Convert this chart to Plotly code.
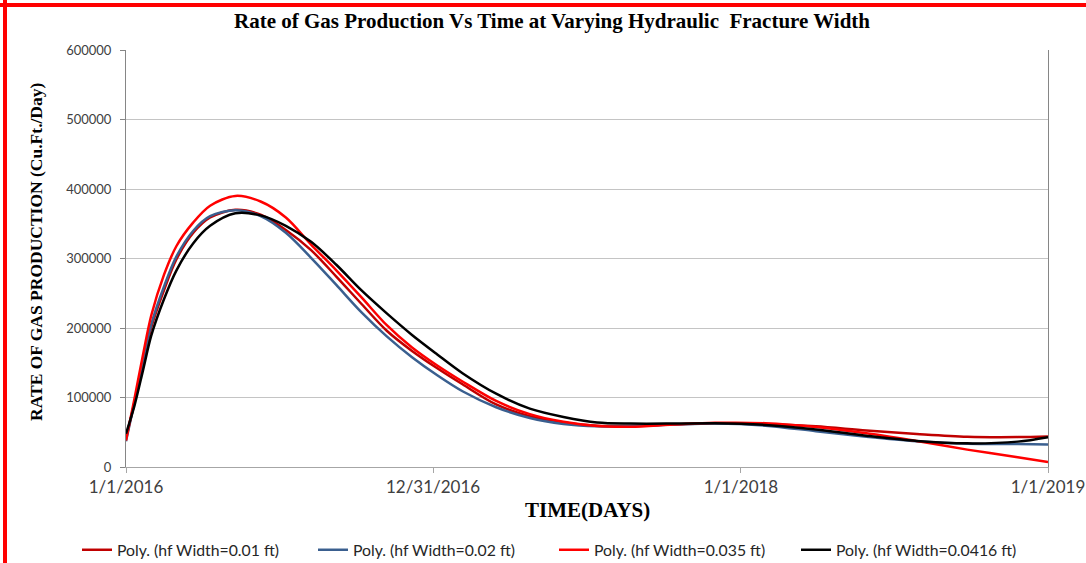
import pandas as pd
import plotly.graph_objects as go

# ---- data ----
days = [0, 10, 20, 30, 45, 60, 80, 100, 130, 160, 190, 220, 250, 280, 310, 340, 370, 400,
        440, 480, 520, 560, 600, 650, 700, 760, 820, 880, 940, 1000, 1060, 1096]

w_001 = [42000, 92000, 147000, 201000, 254000, 299000, 337000, 359000, 370000, 363000, 341000,
         312000, 274000, 234500, 196000, 167000, 142000, 119000, 90000, 73000, 64000, 59500,
         59000, 61000, 63000, 62000, 58500, 52500, 47500, 43500, 43000, 44000]
w_002 = [37000, 93000, 152000, 205000, 259000, 303000, 340000, 361000, 369500, 361000, 337000,
         301000, 262000, 222500, 188000, 158000, 132000, 109000, 86000, 70500, 62000, 58500,
         59000, 61000, 62500, 59500, 51500, 43500, 37000, 33500, 33000, 32500]
w_0035 = [38000, 98000, 160000, 218000, 276000, 318000, 352000, 376000, 390000, 382000, 359000,
          320000, 283000, 244000, 204000, 172000, 146000, 123000, 95000, 76000, 65000, 59000,
          58000, 61000, 63500, 63000, 57500, 48500, 37500, 25000, 14000, 7000]
w_00416 = [48000, 88000, 138000, 189000, 241000, 283000, 322000, 347000, 365000, 362000, 347000,
           324000, 291000, 254000, 221000, 190000, 162000, 135000, 105500, 84000, 72000, 64000,
           62500, 62500, 63000, 60500, 54000, 45000, 37500, 34000, 36500, 43000]

series_names = ["Poly. (hf Width=0.01 ft)", "Poly. (hf Width=0.02 ft)",
                "Poly. (hf Width=0.035 ft)", "Poly. (hf Width=0.0416 ft)"]
series_values = [w_001, w_002, w_0035, w_00416]
series_colors = ["#C00000", "#3A5F8F", "#FF0000", "#000000"]

start_date = "2016-01-01"
tick_dates = ["2016-01-01", "2016-12-31", "2018-01-01", "2019-01-01"]
tick_labels = ["1/1/2016", "12/31/2016", "1/1/2018", "1/1/2019"]
y_ticks = [0, 100000, 200000, 300000, 400000, 500000, 600000]

dates = pd.Timestamp(start_date) + pd.to_timedelta(days, unit="D")

# ---- layout geometry ----
W, H = 1086, 563
L, R, T, B = 126, 38, 50, 96
PW, PH = W - L - R, H - T - B


def px_x(px):
    return (px - L) / PW


def px_y(py):
    return (H - B - py) / PH


fig = go.Figure()
legend_widths = [191, 196, 197, 190]
for name, vals, col, lw in zip(series_names, series_values, series_colors, legend_widths):
    fig.add_trace(go.Scatter(
        x=dates, y=vals, mode="lines", name=name,
        line=dict(color=col, width=2.5, shape="spline", smoothing=0.9),
        legendwidth=lw,
    ))

fig.update_layout(
    width=W, height=H,
    margin=dict(l=L, r=R, t=T, b=B, autoexpand=False),
    paper_bgcolor="white", plot_bgcolor="white",
    title=dict(
        text="<b>Rate of Gas Production Vs Time at Varying Hydraulic  Fracture Width</b>",
        font=dict(family="Liberation Serif", size=21, color="black"),
        x=552 / W, xanchor="center", xref="container",
        y=1 - 21 / H, yanchor="middle", yref="container",
    ),
    showlegend=True,
    legend=dict(
        orientation="h", x=px_x(77), xanchor="left", y=px_y(550), yanchor="middle",
        font=dict(family="Lato", size=15.8, color="#262626"),
        bgcolor="rgba(0,0,0,0)", itemwidth=30,
    ),
    xaxis=dict(
        type="date",
        range=[tick_dates[0], tick_dates[-1]],
        tickmode="array", tickvals=tick_dates, ticktext=tick_labels,
        showgrid=False, zeroline=False,
        showline=True, linecolor="#a6a6a6", linewidth=1,
        ticks="outside", ticklen=5, tickcolor="#a6a6a6",
        tickfont=dict(family="Lato", size=17, color="#404040"),
    ),
    yaxis=dict(
        range=[0, 600000],
        tickmode="array", tickvals=y_ticks, ticktext=[str(v) for v in y_ticks],
        showgrid=True, gridcolor="#c4c4c4", gridwidth=1,
        zeroline=False,
        showline=True, linecolor="#868686", linewidth=1, mirror=True,
        ticks="outside", ticklen=5, tickcolor="#868686",
        ticklabelstandoff=6,
        tickfont=dict(family="Lato", size=13, color="#404040"),
    ),
    annotations=[
        dict(text="<b>RATE OF GAS PRODUCTION (Cu.Ft./Day)</b>", textangle=-90,
             x=px_x(36), y=px_y(252), xref="paper", yref="paper",
             xanchor="center", yanchor="middle", showarrow=False,
             font=dict(family="Liberation Serif", size=17.5, color="black")),
        dict(text="<b>TIME(DAYS)</b>",
             x=px_x(587), y=px_y(510), xref="paper", yref="paper",
             xanchor="center", yanchor="middle", showarrow=False,
             font=dict(family="Liberation Serif", size=21, color="black")),
    ],
    shapes=[
        dict(type="line", xref="paper", yref="paper",
             x0=px_x(5), x1=px_x(5), y0=px_y(0), y1=px_y(H),
             line=dict(color="#FF0000", width=4)),
        dict(type="line", xref="paper", yref="paper",
             x0=px_x(0), x1=px_x(W), y0=px_y(5), y1=px_y(5),
             line=dict(color="#FF0000", width=4)),
    ],
)

fig.write_html("out.html", config={"displayModeBar": False},
               post_script="document.body.style.margin='0px';")
